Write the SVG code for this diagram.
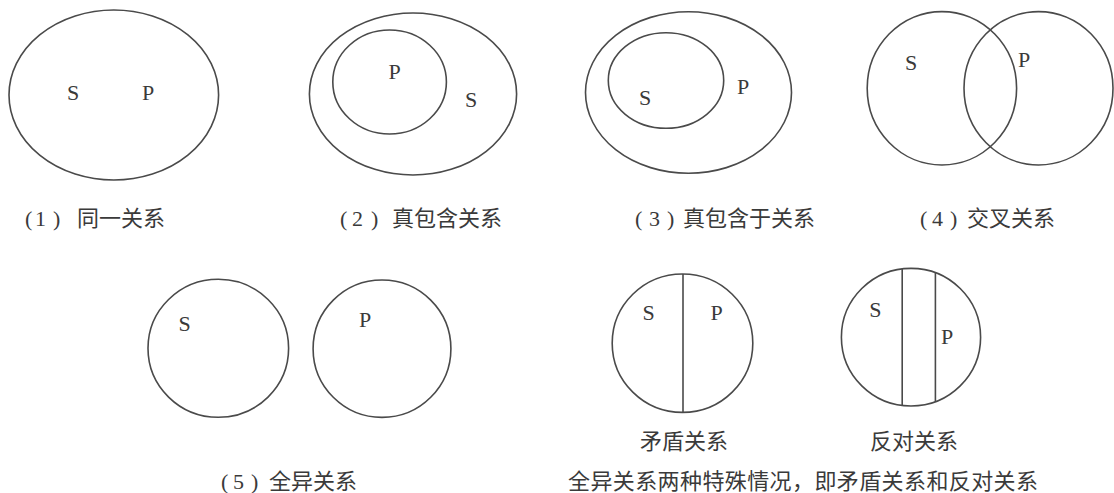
<svg xmlns="http://www.w3.org/2000/svg" width="1114" height="493" viewBox="0 0 1114 493">
<style>
.sh{fill:none;stroke:#4a4a4a;stroke-width:1.6}
.lt{font-family:"Liberation Serif","Times New Roman",serif;font-size:22px;fill:#3a3a3a;text-anchor:middle}
.cap{font-family:"Liberation Serif","Noto Sans CJK SC",serif;font-size:22px;fill:#3a3a3a}
.cj{font-family:"Noto Sans CJK SC","Liberation Sans",sans-serif}
</style>
<rect width="1114" height="493" fill="#ffffff"/>
<g id="panel1">
<ellipse class="sh" cx="113.8" cy="95" rx="104.8" ry="85"/>
<text class="lt" x="73" y="100">S</text>
<text class="lt" x="148" y="100">P</text>
<text class="cap" y="226"><tspan x="25">(</tspan><tspan x="35">1</tspan><tspan x="53">)</tspan><tspan class="cj" x="77">同一关系</tspan></text>
</g>
<g id="panel2">
<ellipse class="sh" cx="413" cy="94" rx="103.6" ry="81"/>
<ellipse class="sh" cx="389.6" cy="82" rx="56.8" ry="52"/>
<text class="lt" x="394.6" y="79">P</text>
<text class="lt" x="471" y="107">S</text>
<text class="cap" y="226"><tspan x="340">(</tspan><tspan x="352">2</tspan><tspan x="371">)</tspan><tspan class="cj" x="392">真包含关系</tspan></text>
</g>
<g id="panel3">
<ellipse class="sh" cx="688.5" cy="92.5" rx="103" ry="80.8"/>
<ellipse class="sh" cx="666" cy="80.5" rx="57.7" ry="47.8"/>
<text class="lt" x="645" y="105">S</text>
<text class="lt" x="743" y="94">P</text>
<text class="cap" y="226"><tspan x="635">(</tspan><tspan x="649">3</tspan><tspan x="667">)</tspan><tspan class="cj" x="683">真包含于关系</tspan></text>
</g>
<g id="panel4">
<ellipse class="sh" cx="941.9" cy="88.3" rx="74.7" ry="76.7"/>
<ellipse class="sh" cx="1038.5" cy="88.3" rx="74.5" ry="76.7"/>
<text class="lt" x="911" y="70">S</text>
<text class="lt" x="1024" y="67">P</text>
<text class="cap" y="226"><tspan x="920">(</tspan><tspan x="932">4</tspan><tspan x="950">)</tspan><tspan class="cj" x="967">交叉关系</tspan></text>
</g>
<g id="panel5">
<ellipse class="sh" cx="218.3" cy="348.3" rx="70.3" ry="69"/>
<ellipse class="sh" cx="382" cy="348.7" rx="68.9" ry="68.7"/>
<text class="lt" x="184.6" y="331">S</text>
<text class="lt" x="365" y="327">P</text>
<text class="cap" y="489"><tspan x="221">(</tspan><tspan x="233">5</tspan><tspan x="251">)</tspan><tspan class="cj" x="269">全异关系</tspan></text>
</g>
<g id="contradiction">
<ellipse class="sh" cx="682.5" cy="343.2" rx="70.3" ry="69.2"/>
<line class="sh" x1="683" y1="274" x2="683" y2="412.4"/>
<text class="lt" x="648.6" y="320">S</text>
<text class="lt" x="716.5" y="320">P</text>
<text class="cap cj" x="640" y="449">矛盾关系</text>
</g>
<g id="contrary">
<ellipse class="sh" cx="911" cy="337.2" rx="69.6" ry="68.8"/>
<line class="sh" x1="902.2" y1="269" x2="902.2" y2="405.4"/>
<line class="sh" x1="935.4" y1="272.8" x2="935.4" y2="401.6"/>
<text class="lt" x="875.4" y="317">S</text>
<text class="lt" x="947" y="344">P</text>
<text class="cap cj" x="870" y="449">反对关系</text>
</g>
<g id="caption">
<text class="cap cj" x="568" y="489" textLength="470" lengthAdjust="spacing">全异关系两种特殊情况，即矛盾关系和反对关系</text>
</g>
<g id="connectors"/>
</svg>
